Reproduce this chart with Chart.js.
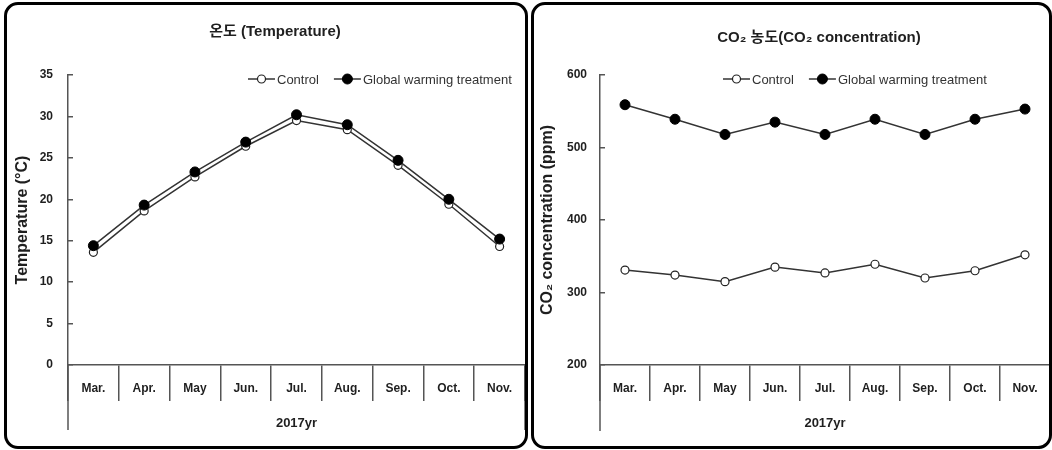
<!DOCTYPE html>
<html>
<head>
<meta charset="utf-8">
<script src="https://cdn.jsdelivr.net/npm/chart.js@4.4.1/dist/chart.umd.min.js"></script>
<style>
  body { margin: 0; background: #fff; width: 1052px; height: 450px; position: relative; overflow: hidden; }
  canvas { position: absolute; top: 0; }
  .panel { position: absolute; top: 2px; height: 447px; border: 3px solid #000; border-radius: 14px; box-sizing: border-box; pointer-events: none; }
</style>
</head>
<body>
<!-- canvases are 5px wider than the plot needs: chart.js keeps a 5px right margin -->
<canvas id="tempChart" width="531" height="450" style="left:0"></canvas>
<canvas id="co2Chart" width="528" height="450" style="left:528px"></canvas>
<div class="panel" style="left:4px;width:524px"></div>
<div class="panel" style="left:531px;width:521px"></div>

<script>
const months = ['Mar.', 'Apr.', 'May', 'Jun.', 'Jul.', 'Aug.', 'Sep.', 'Oct.', 'Nov.'];
const seriesNames = ['Control', 'Global warming treatment'];

// temperature, degC
const tempControl   = [13.6, 18.6, 22.7, 26.4, 29.5, 28.4, 24.1, 19.4, 14.3];
const tempTreatment = [14.4, 19.3, 23.3, 26.9, 30.2, 29.0, 24.7, 20.0, 15.2];

// CO2, ppm
const co2Control   = [331, 324, 315, 335, 327, 339, 320, 330, 352];
const co2Treatment = [559, 539, 518, 535, 518, 539, 518, 539, 553];

const TEXT = '#1f1f1f';
const AXIS = '#555';
const FONT = "'Liberation Sans', Arial, 'Noto Sans CJK KR', sans-serif";

// title, legend and the long outer lines of the two-level x axis
const panelDecor = {
  id: 'panelDecor',
  afterDraw(chart, args, opts) {
    const { ctx, chartArea } = chart;
    const x = chart.scales.x;
    ctx.save();

    ctx.strokeStyle = AXIS;
    ctx.lineWidth = 1.5;
    [x.left, x.right].forEach(px => {
      ctx.beginPath();
      ctx.moveTo(px, chartArea.bottom);
      ctx.lineTo(px, chartArea.bottom + opts.outerDrop);
      ctx.stroke();
    });

    ctx.fillStyle = TEXT;
    ctx.textAlign = 'center';
    ctx.textBaseline = 'middle';
    ctx.font = 'bold 15px ' + FONT;
    ctx.fillText(opts.title, opts.titleX, opts.titleY);

    // legend
    ctx.font = '13px ' + FONT;
    ctx.textAlign = 'left';
    let lx = opts.legendX;
    const ly = opts.legendY;
    chart.data.datasets.forEach(ds => {
      ctx.strokeStyle = ds.borderColor;
      ctx.lineWidth = ds.borderWidth;
      ctx.beginPath();
      ctx.moveTo(lx, ly);
      ctx.lineTo(lx + 27, ly);
      ctx.stroke();
      ctx.beginPath();
      ctx.arc(lx + 13.5, ly, ds.pointRadius, 0, Math.PI * 2);
      ctx.fillStyle = ds.pointBackgroundColor;
      ctx.fill();
      ctx.lineWidth = ds.pointBorderWidth;
      ctx.strokeStyle = ds.pointBorderColor;
      ctx.stroke();
      ctx.fillStyle = '#333';
      ctx.fillText(ds.label, lx + 29, ly + 1);
      lx += 29 + ctx.measureText(ds.label).width + 15;
    });
    ctx.restore();
  }
};

function makeChart(id, control, treatment, yOpts, deco) {
  const ctx = document.getElementById(id).getContext('2d');
  return new Chart(ctx, {
    type: 'line',
    data: {
      labels: months,
      datasets: [{
        label: seriesNames[0],
        data: control,
        borderColor: '#333',
        borderWidth: 1.5,
        pointRadius: 4,
        pointBackgroundColor: '#fff',
        pointBorderColor: '#222',
        pointBorderWidth: 1.2,
        order: 2
      }, {
        label: seriesNames[1],
        data: treatment,
        borderColor: '#333',
        borderWidth: 1.5,
        pointRadius: 5,
        pointBackgroundColor: '#000',
        pointBorderColor: '#000',
        pointBorderWidth: 1,
        order: 1
      }]
    },
    options: {
      responsive: false,
      animation: false,
      devicePixelRatio: 1,
      layout: { padding: { left: 0, right: 0, top: 75, bottom: 0 } },
      plugins: {
        legend: { display: false },
        tooltip: { enabled: false },
        panelDecor: deco
      },
      scales: {
        x: {
          offset: true,
          grid: { offset: true, drawOnChartArea: false, tickLength: 36, color: AXIS, lineWidth: 1.5 },
          border: { color: AXIS, width: 1.5 },
          ticks: { padding: -20, color: TEXT, maxRotation: 0, autoSkip: false, font: { family: FONT, size: 12, weight: 'bold' } },
          title: { display: true, text: '2017yr', color: TEXT, font: { family: FONT, size: 13, weight: 'bold' }, padding: { top: 0, bottom: 19 } },
          afterFit: s => { s.height = 85; }
        },
        y: {
          min: yOpts.min,
          max: yOpts.max,
          grid: { drawOnChartArea: false, tickLength: -5, color: AXIS, lineWidth: 1.5 },
          border: { color: AXIS, width: 1.5 },
          ticks: { stepSize: yOpts.step, padding: yOpts.labelPad, color: TEXT, font: { family: FONT, size: 12, weight: 'bold' } },
          title: { display: true, text: yOpts.title, color: TEXT, font: { family: FONT, size: 16, weight: 'bold' }, padding: { top: yOpts.titlePad, bottom: 0 } },
          afterFit: s => { s.width = yOpts.width; }
        }
      }
    },
    plugins: [panelDecor]
  });
}

makeChart('tempChart', tempControl, tempTreatment,
  { min: 0, max: 35, step: 5, title: 'Temperature (°C)', width: 68, labelPad: 20, titlePad: 13 },
  { title: '온도 (Temperature)', titleX: 275, titleY: 32, legendX: 248, legendY: 79, outerDrop: 65 });

makeChart('co2Chart', co2Control, co2Treatment,
  { min: 200, max: 600, step: 100, title: 'CO₂ concentration (ppm)', width: 72, labelPad: 18, titlePad: 10 },
  { title: 'CO₂ 농도(CO₂ concentration)', titleX: 291, titleY: 38, legendX: 195, legendY: 79, outerDrop: 66 });
</script>
</body>
</html>
